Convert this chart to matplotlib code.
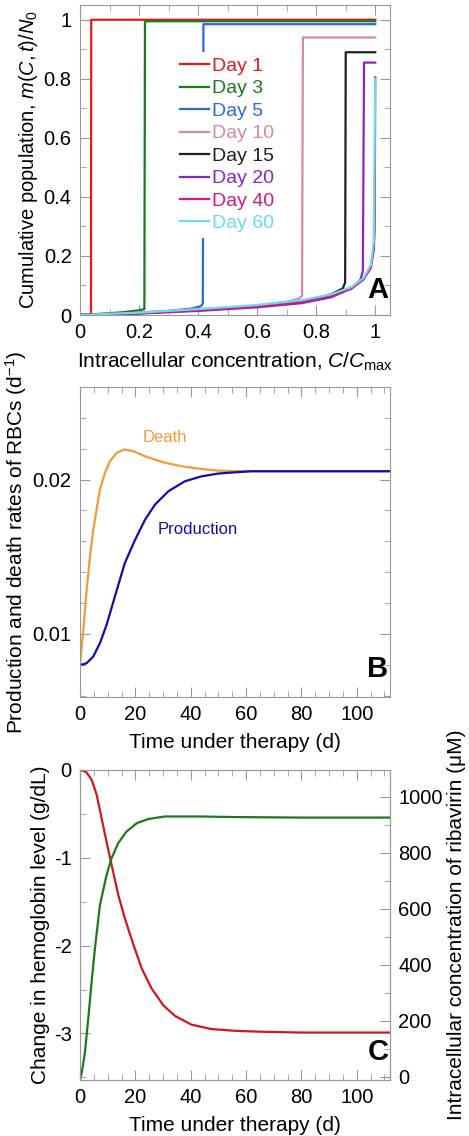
import numpy as np
import matplotlib
matplotlib.use("Agg")
import matplotlib.pyplot as plt
from matplotlib.ticker import MultipleLocator, FormatStrFormatter

plt.rcParams['font.family'] = ['Liberation Sans', 'DejaVu Sans']
plt.rcParams['mathtext.fontset'] = 'custom'
plt.rcParams['mathtext.rm'] = 'Liberation Sans'
plt.rcParams['mathtext.it'] = 'Liberation Sans:italic'
plt.rcParams['axes.unicode_minus'] = False

# ---- panel A: cumulative population at several days
days = ['Day 1', 'Day 3', 'Day 5', 'Day 10', 'Day 15', 'Day 20', 'Day 40', 'Day 60']
day_colors = ['#e8181c', '#1c7a1c', '#2a6adc', '#d88a9c', '#202020', '#8a24c8', '#d61a7c', '#6adcf0']
cum_x = [
    [0, 0.01, 0.03, 0.037, 0.038, 1.0],
    [0, 0.05, 0.1, 0.15, 0.2, 0.218, 0.22, 1.0],
    [0, 0.1, 0.2, 0.3, 0.38, 0.41, 0.416, 0.418, 1.0],
    [0, 0.2, 0.4, 0.6, 0.7, 0.74, 0.752, 0.755, 1.0],
    [0, 0.2, 0.4, 0.6, 0.75, 0.85, 0.89, 0.898, 0.9, 1.0],
    [0, 0.2, 0.4, 0.6, 0.75, 0.85, 0.92, 0.95, 0.958, 0.962, 1.0],
    [0, 0.2, 0.4, 0.6, 0.75, 0.85, 0.92, 0.96, 0.985, 0.995, 0.998, 1.0],
    [0, 0.2, 0.4, 0.6, 0.75, 0.85, 0.92, 0.96, 0.985, 0.995, 1.0],
]
cum_y = [
    [0, 0.001, 0.003, 0.004, 1.0, 1.0],
    [0, 0.003, 0.006, 0.01, 0.016, 0.02, 0.995, 0.995],
    [0, 0.004, 0.008, 0.014, 0.022, 0.03, 0.04, 0.985, 0.985],
    [0, 0.007, 0.018, 0.032, 0.045, 0.055, 0.065, 0.94, 0.94],
    [0, 0.006, 0.016, 0.029, 0.045, 0.07, 0.09, 0.11, 0.89, 0.89],
    [0, 0.005, 0.014, 0.026, 0.04, 0.06, 0.09, 0.12, 0.15, 0.855, 0.855],
    [0, 0.006, 0.016, 0.029, 0.044, 0.065, 0.09, 0.12, 0.16, 0.22, 0.29, 0.805],
    [0, 0.008, 0.02, 0.034, 0.05, 0.07, 0.095, 0.125, 0.17, 0.25, 0.80],
]

# ---- panel B: production and death rates (1/d)
t_death = [0, 1.2, 2.4, 3.6, 4.8, 6.0, 7.2, 9.0, 10.8, 13.2, 16, 19.3, 23.5, 30.1,
           36.7, 43.9, 49.9, 56, 62, 80, 112]
death = [0.0080, 0.01026, 0.01286, 0.01502, 0.01675, 0.01805, 0.01935, 0.02043, 0.02119,
         0.02173, 0.02195, 0.02184, 0.02151, 0.02112, 0.02086, 0.02069, 0.02058, 0.02055,
         0.02054, 0.02054, 0.02054]
t_prod = [0, 1.2, 2.4, 4.8, 7.2, 9.6, 12.6, 16.2, 19.9, 23.5, 27.1, 31.9, 37.9, 43.9,
          49.9, 56, 62, 80, 112]
production = [0.0080, 0.00802, 0.0081, 0.00853, 0.0094, 0.01058, 0.01242, 0.01459, 0.0161,
              0.0174, 0.01838, 0.01924, 0.01989, 0.02021, 0.02039, 0.02047, 0.02054,
              0.02054, 0.02054]

# ---- panel C: hemoglobin change (g/dL) and ribavirin concentration (uM)
t_hb = [0, 1.2, 2.4, 4.2, 6.0, 7.8, 9.6, 11.4, 13.8, 16.2, 19.3, 22.3, 25.9, 30.1,
        34.3, 40.3, 47.5, 56, 65, 80, 112]
hb = [0, -0.01, -0.03, -0.11, -0.28, -0.55, -0.82, -1.08, -1.42, -1.69, -1.99, -2.26,
      -2.49, -2.68, -2.80, -2.90, -2.95, -2.97, -2.98, -2.99, -2.99]
t_rbv = [0, 0.6, 1.2, 1.8, 3.0, 4.2, 5.4, 7.2, 9.6, 11.4, 13.8, 16.8, 20.5, 24.7,
         30.7, 43, 55, 80, 112]
rbv = [-10, 15, 50, 90, 210, 340, 460, 614, 721, 781, 835, 876, 906, 921,
       930, 930, 928, 926, 926]

grey = '#999999'
tick_fs = 14.5
label_fs = 15


def style(ax, right=True, top=True):
    for s in ax.spines.values():
        s.set_color(grey)
    ax.tick_params(which='both', direction='in', color=grey, top=top, right=right,
                   labelsize=tick_fs, pad=6)
    ax.tick_params(which='major', length=7)
    ax.tick_params(which='minor', length=4)


fig = plt.figure(figsize=(4.69, 11.36), dpi=100)

# panel A
axA = fig.add_axes([0.1706, 0.7227, 0.661, 0.2729])
for xs, ys, c, lab in zip(cum_x, cum_y, day_colors, days):
    axA.plot(xs, ys, color=c, lw=1.6, label=lab)
axA.set_xlim(0, 1.05)
axA.set_ylim(0, 1.05)
axA.xaxis.set_major_locator(MultipleLocator(0.2))
axA.xaxis.set_minor_locator(MultipleLocator(0.1))
axA.yaxis.set_major_locator(MultipleLocator(0.2))
axA.yaxis.set_minor_locator(MultipleLocator(0.1))
axA.xaxis.set_major_formatter(FormatStrFormatter('%g'))
axA.yaxis.set_major_formatter(FormatStrFormatter('%g'))
style(axA)
axA.set_ylabel(r'Cumulative population, $m(C,t)/N_0$', fontsize=14.5, labelpad=3)
axA.set_xlabel(r'Intracellular concentration, $C/C_{\mathrm{max}}$', fontsize=label_fs, labelpad=6)
leg = axA.legend(loc='upper left', bbox_to_anchor=(0.303, 0.85), borderaxespad=0,
                 frameon=True, fontsize=14, handlelength=1.5, handletextpad=0.15,
                 labelspacing=0.25, borderpad=0.3, labelcolor='linecolor')
leg.get_frame().set_facecolor('white')
leg.get_frame().set_edgecolor('none')
leg.get_frame().set_alpha(1)
axA.text(0.995, 0.035, 'A', transform=axA.transAxes, ha='right', va='bottom',
         fontsize=21, fontweight='bold')

# panel B
axB = fig.add_axes([0.1706, 0.3864, 0.661, 0.2729])
axB.plot(t_death, death, color='#f39a3a', lw=1.6)
axB.plot(t_prod, production, color='#1010a8', lw=1.6)
axB.set_xlim(0, 112)
axB.set_ylim(0.0059, 0.026)
axB.xaxis.set_major_locator(MultipleLocator(20))
axB.xaxis.set_minor_locator(MultipleLocator(5))
axB.yaxis.set_major_locator(MultipleLocator(0.01))
axB.yaxis.set_minor_locator(MultipleLocator(0.002))
axB.yaxis.set_major_formatter(FormatStrFormatter('%g'))
style(axB)
axB.set_ylabel(r'Production and death rates of RBCs (d$^{-1}$)', fontsize=label_fs, labelpad=3)
axB.set_xlabel('Time under therapy (d)', fontsize=label_fs, labelpad=6)
axB.text(30.7, 0.0227, 'Death', color='#f39a3a', fontsize=12, ha='center', va='center')
axB.text(42.6, 0.01675, 'Production', color='#1010a8', fontsize=12, ha='center', va='center')
axB.text(0.995, 0.045, 'B', transform=axB.transAxes, ha='right', va='bottom',
         fontsize=21, fontweight='bold')

# panel C
axC = fig.add_axes([0.1706, 0.0493, 0.661, 0.2729])
axC.plot(t_hb, hb, color='#d0181c', lw=1.6)
axC.set_xlim(0, 112)
axC.set_ylim(-3.53, 0)
axC.xaxis.set_major_locator(MultipleLocator(20))
axC.xaxis.set_minor_locator(MultipleLocator(5))
axC.yaxis.set_major_locator(MultipleLocator(1))
axC.yaxis.set_minor_locator(MultipleLocator(0.5))
style(axC, right=False)
axC.set_ylabel('Change in hemoglobin level (g/dL)', fontsize=label_fs, labelpad=3)
axC.set_xlabel('Time under therapy (d)', fontsize=label_fs, labelpad=6)
axC2 = axC.twinx()
axC2.plot(t_rbv, rbv, color='#1c7a1c', lw=1.6)
axC2.set_ylim(-11, 1096)
axC2.yaxis.set_major_locator(MultipleLocator(200))
axC2.yaxis.set_minor_locator(MultipleLocator(100))
for s in axC2.spines.values():
    s.set_color(grey)
axC2.tick_params(which='both', direction='in', color=grey, labelsize=tick_fs, pad=6)
axC2.tick_params(which='major', length=7)
axC2.tick_params(which='minor', length=4)
axC2.set_ylabel('Intracellular concentration of ribavirin (μM)', fontsize=label_fs, labelpad=3)
axC.text(0.995, 0.045, 'C', transform=axC.transAxes, ha='right', va='bottom',
         fontsize=21, fontweight='bold')

fig.savefig('out.png', dpi=100)
